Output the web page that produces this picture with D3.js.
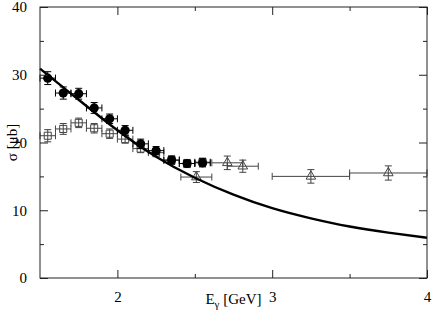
<!DOCTYPE html>
<html>
<head>
<meta charset="utf-8">
<script src="https://cdn.jsdelivr.net/npm/d3@7"></script>
<style>
  body { margin: 0; background: #fff; }
  text { font-family: "Liberation Serif", "DejaVu Serif", "Times New Roman", serif; fill: #000; }
</style>
</head>
<body>
<svg id="chart" width="436" height="321"></svg>
<script>
// filled circles
var circleE = [1.55, 1.65, 1.75, 1.85, 1.95, 2.05, 2.15, 2.25, 2.35, 2.45, 2.55];
var circleSigma = [29.5, 27.3, 27.2, 25.1, 23.5, 21.8, 19.8, 18.8, 17.4, 16.9, 17.0];
var circleErr = [0.95, 0.9, 0.8, 0.8, 0.7, 0.7, 0.7, 0.6, 0.6, 0.5, 0.6];

// open squares
var squareE = [1.55, 1.65, 1.75, 1.85, 1.95, 2.05, 2.15, 2.25, 2.35, 2.45, 2.55];
var squareSigma = [21.0, 22.0, 22.9, 22.1, 21.3, 20.5, 19.1, 18.5, 17.4, 16.9, 17.1];
var squareErr = [0.9, 0.8, 0.7, 0.7, 0.7, 0.6, 0.6, 0.6, 0.6, 0.6, 0.6];

// half width of the energy bins for circles and squares
var binHalf = 0.05;

// open triangles
var triangleE = [2.51, 2.71, 2.81, 3.25, 3.75];
var triangleSigma = [14.9, 17.0, 16.5, 15.0, 15.5];
var triangleErr = [0.8, 1.0, 0.9, 1.0, 1.05];
var triangleELow = [2.41, 2.61, 2.71, 3.0, 3.5];
var triangleEHigh = [2.61, 2.81, 2.91, 3.5, 4.0];

// theory curve
var curveE = [1.5, 1.75, 2.0, 2.25, 2.5, 2.75, 3.0, 3.25, 3.5, 3.75, 4.0];
var curveSigma = [30.9, 26.3, 21.8, 17.9, 14.8, 12.3, 10.3, 8.8, 7.6, 6.7, 5.95];

// axis ticks
var xMajor = [2, 3, 4];
var xMinor = [2.5, 3.5];
var yMajor = [0, 10, 20, 30, 40];
var yMinor = [5, 15, 25, 35];

var svg = d3.select('#chart');
var pLeft = 40, pRight = 427, pTop = 7, pBottom = 278;

var x = d3.scaleLinear().domain([1.5, 4]).range([pLeft, pRight]);
var y = d3.scaleLinear().domain([0, 40]).range([pBottom, pTop]);

var plot = svg.append('g');

// error bars: horizontal and vertical with end caps
function errorBars(g, pts, color) {
  var cap = 3.5;
  pts.forEach(function (p) {
    var cx = x(p.e), cy = y(p.s);
    var x0 = x(p.lo), x1 = x(p.hi);
    var y0 = y(p.s - p.err), y1 = y(p.s + p.err);
    var lines = [
      [x0, cy, x1, cy], [x0, cy - cap, x0, cy + cap], [x1, cy - cap, x1, cy + cap],
      [cx, y0, cx, y1], [cx - cap, y0, cx + cap, y0], [cx - cap, y1, cx + cap, y1]
    ];
    g.selectAll(null).data(lines).enter().append('line')
      .attr('x1', function (d) { return d[0]; })
      .attr('y1', function (d) { return d[1]; })
      .attr('x2', function (d) { return d[2]; })
      .attr('y2', function (d) { return d[3]; })
      .attr('stroke', color)
      .attr('stroke-width', 1);
  });
}

var squares = squareE.map(function (e, i) {
  return {e: e, s: squareSigma[i], err: squareErr[i], lo: e - binHalf, hi: e + binHalf};
});
var circles = circleE.map(function (e, i) {
  return {e: e, s: circleSigma[i], err: circleErr[i], lo: e - binHalf, hi: e + binHalf};
});
var triangles = triangleE.map(function (e, i) {
  return {e: e, s: triangleSigma[i], err: triangleErr[i], lo: triangleELow[i], hi: triangleEHigh[i]};
});

// squares
var gSq = plot.append('g');
errorBars(gSq, squares, '#444');
gSq.selectAll('path.sq').data(squares).enter().append('path')
  .attr('class', 'sq')
  .attr('d', d3.symbol().type(d3.symbolSquare).size(50))
  .attr('transform', function (d) { return 'translate(' + x(d.e) + ',' + y(d.s) + ')'; })
  .attr('fill', 'none')
  .attr('stroke', '#444')
  .attr('stroke-width', 1);

// circles
var gCi = plot.append('g');
errorBars(gCi, circles, '#000');
gCi.selectAll('circle').data(circles).enter().append('circle')
  .attr('cx', function (d) { return x(d.e); })
  .attr('cy', function (d) { return y(d.s); })
  .attr('r', 4.6)
  .attr('fill', '#000');

// triangles
var gTr = plot.append('g');
errorBars(gTr, triangles, '#444');
gTr.selectAll('path.tr').data(triangles).enter().append('path')
  .attr('class', 'tr')
  .attr('d', d3.symbol().type(d3.symbolTriangle).size(40))
  .attr('transform', function (d) { return 'translate(' + x(d.e) + ',' + y(d.s) + ')'; })
  .attr('fill', 'none')
  .attr('stroke', '#444')
  .attr('stroke-width', 1);

// curve
var line = d3.line()
  .x(function (d) { return x(d[0]); })
  .y(function (d) { return y(d[1]); })
  .curve(d3.curveNatural);
plot.append('path')
  .datum(curveE.map(function (e, i) { return [e, curveSigma[i]]; }))
  .attr('d', line)
  .attr('fill', 'none')
  .attr('stroke', '#000')
  .attr('stroke-width', 2.4);

// frame with inward ticks on all four sides
var frame = svg.append('g');
frame.append('rect')
  .attr('x', pLeft).attr('y', pTop)
  .attr('width', pRight - pLeft).attr('height', pBottom - pTop)
  .attr('fill', 'none').attr('stroke', '#222').attr('stroke-width', 1);

function styleAxis(g) {
  g.select('.domain').remove();
  g.selectAll('line').attr('stroke', '#222');
  g.selectAll('text').attr('font-size', '15px').attr('fill', '#000');
}

var fmt = d3.format('d');
frame.append('g').attr('transform', 'translate(0,' + pBottom + ')')
  .call(d3.axisBottom(x).tickValues(xMajor).tickSize(-8).tickPadding(13).tickFormat(fmt)).call(styleAxis);
frame.append('g').attr('transform', 'translate(0,' + pTop + ')')
  .call(d3.axisTop(x).tickValues(xMajor).tickSize(-8).tickFormat('')).call(styleAxis);
frame.append('g').attr('transform', 'translate(' + pLeft + ',0)')
  .call(d3.axisLeft(y).tickValues(yMajor).tickSize(-8).tickPadding(13).tickFormat(fmt)).call(styleAxis);
frame.append('g').attr('transform', 'translate(' + pRight + ',0)')
  .call(d3.axisRight(y).tickValues(yMajor).tickSize(-8).tickFormat('')).call(styleAxis);

// minor ticks
frame.append('g').attr('transform', 'translate(0,' + pBottom + ')')
  .call(d3.axisBottom(x).tickValues(xMinor).tickSize(-4).tickFormat('')).call(styleAxis);
frame.append('g').attr('transform', 'translate(0,' + pTop + ')')
  .call(d3.axisTop(x).tickValues(xMinor).tickSize(-4).tickFormat('')).call(styleAxis);
frame.append('g').attr('transform', 'translate(' + pLeft + ',0)')
  .call(d3.axisLeft(y).tickValues(yMinor).tickSize(-4).tickFormat('')).call(styleAxis);
frame.append('g').attr('transform', 'translate(' + pRight + ',0)')
  .call(d3.axisRight(y).tickValues(yMinor).tickSize(-4).tickFormat('')).call(styleAxis);

// axis titles
var xt = svg.append('text')
  .attr('x', (pLeft + pRight) / 2)
  .attr('y', 304)
  .attr('text-anchor', 'middle')
  .attr('font-size', '15px');
xt.append('tspan').text('E');
xt.append('tspan').attr('font-size', '11px').attr('dy', 4).text('γ');
xt.append('tspan').attr('dy', -4).text(' [GeV]');

svg.append('text')
  .attr('transform', 'translate(17,' + ((pTop + pBottom) / 2) + ') rotate(-90)')
  .attr('text-anchor', 'middle')
  .attr('font-size', '15px')
  .text('σ [μb]');
</script>
</body>
</html>
